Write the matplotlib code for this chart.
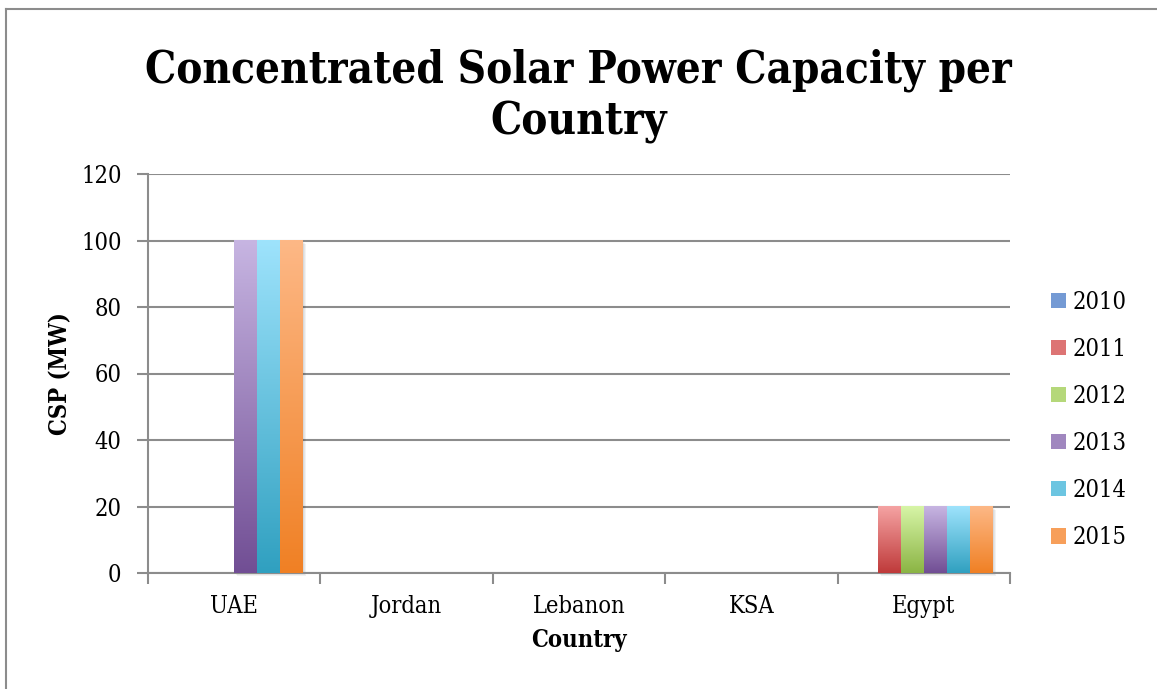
import numpy as np
import matplotlib
matplotlib.use('Agg')
import matplotlib.pyplot as plt
from matplotlib.colors import LinearSegmentedColormap
from matplotlib.patches import Patch, Rectangle
from matplotlib.lines import Line2D

countries = ['UAE', 'Jordan', 'Lebanon', 'KSA', 'Egypt']
years = ['2010', '2011', '2012', '2013', '2014', '2015']
csp_2010 = [0, 0, 0, 0, 0]
csp_2011 = [0, 0, 0, 0, 20]
csp_2012 = [0, 0, 0, 0, 20]
csp_2013 = [100, 0, 0, 0, 20]
csp_2014 = [100, 0, 0, 0, 20]
csp_2015 = [100, 0, 0, 0, 20]
series = [csp_2010, csp_2011, csp_2012, csp_2013, csp_2014, csp_2015]
yticks = [0, 20, 40, 60, 80, 100, 120]

# light top / dark bottom of each year's gradient
top_colors = ['#a3c2f2', '#f5a3a3', '#d7f5a7', '#c7b5e2', '#9ee3fc', '#fdb886']
bottom_colors = ['#3b69b0', '#bf3a3a', '#8bb444', '#714e94', '#30a0c0', '#f08024']

grey = '#8c8c8c'
plt.rcParams['font.family'] = 'DejaVu Serif'
plt.rcParams['font.stretch'] = 'condensed'

W, H = 1157, 689
fig = plt.figure(figsize=(W / 100, H / 100), dpi=100)
ax = fig.add_axes([148 / W, 1 - 573 / H, (1010 - 148) / W, (573 - 174) / H])

x = np.arange(len(countries))
width = 0.8 / len(years)
grad = np.linspace(0, 1, 256).reshape(-1, 1)
for i, vals in enumerate(series):
    bars = ax.bar(x - 0.4 + width * (i + 0.5), vals, width, color='none',
                  linewidth=0, zorder=3)
    cmap = LinearSegmentedColormap.from_list('g%d' % i, [bottom_colors[i], top_colors[i]])
    for b in bars:
        h = b.get_height()
        if h <= 0:
            continue
        x0, w = b.get_x(), b.get_width()
        # soft drop shadow
        for k in range(1, 4):
            ax.add_patch(Rectangle((x0 + k * 0.006, -k * 0.35), w, h, color='k',
                                   alpha=0.05, lw=0, zorder=2.5, clip_on=False))
        ax.imshow(grad, cmap=cmap, origin='lower', extent=[x0, x0 + w, 0, h],
                  aspect='auto', zorder=3, interpolation='bilinear')

ax.set_xlim(-0.5, len(countries) - 0.5)
ax.set_ylim(0, 120)
ax.set_yticks(yticks)
ax.yaxis.grid(True, color=grey, lw=1.5, zorder=1)
ax.set_axisbelow(True)
for s in ['top', 'right']:
    ax.spines[s].set_visible(False)
for s in ['left', 'bottom']:
    ax.spines[s].set_color(grey)
    ax.spines[s].set_linewidth(1.5)

ax.set_xticks(np.arange(-0.5, len(countries), 1))
ax.set_xticks(x, minor=True)
ax.set_xticklabels(countries, minor=True, fontsize=17)
ax.tick_params(axis='x', which='major', length=8, width=1.5, color=grey, labelbottom=False)
ax.tick_params(axis='x', which='minor', length=0, pad=16)
ax.tick_params(axis='y', length=8, width=1.5, color=grey, labelsize=17, pad=11)

ax.set_xlabel('Country', fontsize=17, fontweight='bold', va='top')
ax.xaxis.set_label_coords(0.5, (573 - 628) / 399)
ax.set_ylabel('CSP (MW)', fontsize=17, fontweight='bold')
ax.yaxis.set_label_coords((72 - 148) / 862, 0.5)

fig.text(0.5, 1 - 49 / H, 'Concentrated Solar Power Capacity per\nCountry', ha='center',
         va='top', fontsize=31.5, fontweight='bold', linespacing=1.25)

handles = [Patch(facecolor=LinearSegmentedColormap.from_list('l', [bottom_colors[i], top_colors[i]])(0.55),
                 edgecolor='none') for i in range(len(years))]
fig.legend(handles, years, loc='center left', bbox_to_anchor=(1030 / W, 1 - 420 / H),
           frameon=False, fontsize=17, handlelength=0.62, handleheight=0.62,
           handletextpad=0.3, labelspacing=1.02)

# outer chart frame
fig.add_artist(Line2D([6 / W, 6 / W], [0, 1 - 9 / H], color=grey, lw=1.5))
fig.add_artist(Line2D([6 / W, 1], [1 - 9 / H, 1 - 9 / H], color=grey, lw=1.5))

fig.savefig('out.png', dpi=100)
